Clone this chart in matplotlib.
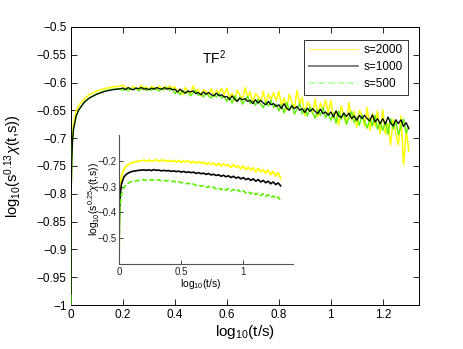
import matplotlib
matplotlib.use("Agg")
import matplotlib.pyplot as plt
from matplotlib.lines import Line2D

plt.rcParams['font.family'] = ['Liberation Sans', 'DejaVu Sans']
plt.rcParams['mathtext.fontset'] = 'custom'
plt.rcParams['mathtext.rm'] = 'Liberation Sans'
plt.rcParams['mathtext.it'] = 'Liberation Sans:italic'

# ---------------- main panel data ----------------
x_main = [0, 0.001, 0.003, 0.006, 0.01, 0.02, 0.03, 0.05, 0.07, 0.1, 0.13, 0.16, 0.18,
          0.20, 0.21, 0.22, 0.23, 0.24, 0.25, 0.26, 0.27, 0.28, 0.29,
          0.30, 0.31, 0.32, 0.33, 0.34, 0.35, 0.36, 0.37, 0.38, 0.39,
          0.40, 0.41, 0.42, 0.43, 0.44, 0.45, 0.46, 0.47, 0.48, 0.49,
          0.50, 0.51, 0.52, 0.53, 0.54, 0.55, 0.56, 0.57, 0.58, 0.59,
          0.60, 0.61, 0.62, 0.63, 0.64, 0.65, 0.66, 0.67, 0.68, 0.69,
          0.70, 0.71, 0.72, 0.73, 0.74, 0.75, 0.76, 0.77, 0.78, 0.79,
          0.80, 0.81, 0.82, 0.83, 0.84, 0.85, 0.86, 0.87, 0.88, 0.89,
          0.90, 0.91, 0.92, 0.93, 0.94, 0.95, 0.96, 0.97, 0.98, 0.99,
          1.00, 1.01, 1.02, 1.03, 1.04, 1.05, 1.06, 1.07, 1.08, 1.09,
          1.10, 1.11, 1.12, 1.13, 1.14, 1.15, 1.16, 1.17, 1.18, 1.19,
          1.20, 1.21, 1.22, 1.23, 1.24, 1.25, 1.26, 1.27, 1.28, 1.29, 1.30]

s2000 = [-0.98, -0.78, -0.725, -0.69, -0.672, -0.651, -0.641, -0.630, -0.622, -0.615, -0.611, -0.608, -0.607,
         -0.605, -0.611, -0.608, -0.613, -0.607, -0.610, -0.612, -0.605, -0.611, -0.608,
         -0.613, -0.607, -0.609, -0.612, -0.606, -0.613, -0.607, -0.610, -0.606, -0.611,
         -0.607, -0.618, -0.612, -0.622, -0.609, -0.616, -0.620, -0.606, -0.617, -0.612,
         -0.624, -0.613, -0.616, -0.623, -0.611, -0.625, -0.614, -0.619, -0.611, -0.622,
         -0.610, -0.627, -0.619, -0.633, -0.614, -0.623, -0.631, -0.609, -0.626, -0.617,
         -0.637, -0.620, -0.625, -0.634, -0.616, -0.638, -0.621, -0.630, -0.618, -0.633,
         -0.616, -0.641, -0.628, -0.650, -0.621, -0.636, -0.646, -0.614, -0.639, -0.627,
         -0.660, -0.635, -0.642, -0.657, -0.630, -0.662, -0.637, -0.649, -0.631, -0.655,
         -0.632, -0.664, -0.650, -0.677, -0.642, -0.660, -0.675, -0.636, -0.668, -0.652,
         -0.680, -0.650, -0.660, -0.678, -0.645, -0.686, -0.656, -0.679, -0.651, -0.692,
         -0.649, -0.693, -0.674, -0.712, -0.666, -0.692, -0.712, -0.660, -0.748, -0.685, -0.723]

s1000 = [-0.98, -0.80, -0.74, -0.705, -0.683, -0.660, -0.649, -0.636, -0.628, -0.621, -0.616, -0.613, -0.612,
         -0.610, -0.613, -0.609, -0.612, -0.613, -0.610, -0.611, -0.609, -0.612, -0.611,
         -0.613, -0.610, -0.612, -0.609, -0.611, -0.612, -0.609, -0.612, -0.610, -0.613,
         -0.612, -0.617, -0.612, -0.616, -0.619, -0.615, -0.617, -0.615, -0.620, -0.618,
         -0.622, -0.617, -0.621, -0.618, -0.622, -0.624, -0.619, -0.624, -0.622, -0.626,
         -0.625, -0.631, -0.624, -0.630, -0.634, -0.628, -0.631, -0.629, -0.634, -0.632,
         -0.638, -0.631, -0.637, -0.632, -0.637, -0.640, -0.634, -0.640, -0.638, -0.643,
         -0.640, -0.647, -0.638, -0.646, -0.650, -0.642, -0.647, -0.643, -0.650, -0.647,
         -0.654, -0.646, -0.652, -0.647, -0.652, -0.656, -0.648, -0.656, -0.653, -0.659,
         -0.653, -0.662, -0.651, -0.660, -0.663, -0.655, -0.661, -0.655, -0.665, -0.660,
         -0.668, -0.659, -0.665, -0.659, -0.665, -0.669, -0.658, -0.671, -0.665, -0.674,
         -0.665, -0.675, -0.662, -0.673, -0.678, -0.667, -0.674, -0.667, -0.679, -0.672, -0.683]

s500 = [-1.0, -0.80, -0.74, -0.705, -0.684, -0.661, -0.650, -0.636, -0.628, -0.620, -0.615, -0.612, -0.611,
        -0.614, -0.611, -0.615, -0.610, -0.613, -0.610, -0.615, -0.612, -0.609, -0.614,
        -0.611, -0.614, -0.610, -0.613, -0.615, -0.611, -0.613, -0.609, -0.614, -0.611,
        -0.620, -0.615, -0.622, -0.614, -0.620, -0.616, -0.624, -0.619, -0.615, -0.623,
        -0.620, -0.626, -0.619, -0.624, -0.628, -0.621, -0.626, -0.620, -0.628, -0.625,
        -0.634, -0.626, -0.637, -0.624, -0.633, -0.626, -0.639, -0.632, -0.625, -0.638,
        -0.633, -0.641, -0.630, -0.639, -0.645, -0.634, -0.642, -0.632, -0.645, -0.639,
        -0.651, -0.640, -0.655, -0.636, -0.649, -0.640, -0.657, -0.647, -0.638, -0.656,
        -0.647, -0.660, -0.644, -0.655, -0.664, -0.649, -0.659, -0.645, -0.663, -0.655,
        -0.668, -0.655, -0.673, -0.651, -0.666, -0.654, -0.675, -0.663, -0.652, -0.672,
        -0.662, -0.677, -0.658, -0.671, -0.682, -0.664, -0.678, -0.659, -0.684, -0.671,
        -0.686, -0.670, -0.693, -0.665, -0.683, -0.669, -0.694, -0.679, -0.666, -0.691, -0.679]

# ---------------- inset data ----------------
x_in = [0, 0.003, 0.006, 0.01, 0.02, 0.04, 0.06, 0.08, 0.1, 0.13, 0.16,
        0.20, 0.22, 0.24, 0.26, 0.28, 0.30, 0.32, 0.34, 0.36, 0.38,
        0.40, 0.42, 0.44, 0.46, 0.48, 0.50, 0.52, 0.54, 0.56, 0.58,
        0.60, 0.62, 0.64, 0.66, 0.68, 0.70, 0.72, 0.74, 0.76, 0.78,
        0.80, 0.82, 0.84, 0.86, 0.88, 0.90, 0.92, 0.94, 0.96, 0.98,
        1.00, 1.02, 1.04, 1.06, 1.08, 1.10, 1.12, 1.14, 1.16, 1.18,
        1.20, 1.22, 1.24, 1.26, 1.28, 1.30]

in2000 = [-0.60, -0.40, -0.34, -0.30, -0.26, -0.232, -0.220, -0.213, -0.208, -0.204, -0.201,
          -0.198, -0.202, -0.197, -0.201, -0.199, -0.196, -0.202, -0.198, -0.197, -0.203,
          -0.198, -0.203, -0.199, -0.205, -0.198, -0.206, -0.201, -0.204, -0.200, -0.209,
          -0.202, -0.209, -0.204, -0.210, -0.205, -0.214, -0.207, -0.213, -0.209, -0.218,
          -0.210, -0.221, -0.212, -0.219, -0.215, -0.226, -0.215, -0.225, -0.220, -0.231,
          -0.220, -0.234, -0.224, -0.236, -0.227, -0.243, -0.229, -0.243, -0.234, -0.248,
          -0.236, -0.254, -0.241, -0.259, -0.246, -0.268]

in1000 = [-0.60, -0.42, -0.37, -0.33, -0.29, -0.262, -0.252, -0.246, -0.242, -0.239, -0.237,
          -0.235, -0.237, -0.235, -0.238, -0.234, -0.237, -0.236, -0.239, -0.237, -0.239,
          -0.238, -0.241, -0.239, -0.242, -0.240, -0.244, -0.241, -0.245, -0.243, -0.246,
          -0.244, -0.249, -0.246, -0.250, -0.248, -0.253, -0.249, -0.255, -0.252, -0.257,
          -0.254, -0.260, -0.256, -0.262, -0.258, -0.265, -0.260, -0.267, -0.263, -0.270,
          -0.265, -0.273, -0.268, -0.276, -0.270, -0.279, -0.273, -0.282, -0.276, -0.285,
          -0.279, -0.289, -0.282, -0.292, -0.286, -0.297]

in500 = [-0.60, -0.46, -0.41, -0.37, -0.33, -0.302, -0.291, -0.285, -0.281, -0.278, -0.276,
         -0.274, -0.276, -0.273, -0.275, -0.273, -0.276, -0.274, -0.277, -0.275, -0.278,
         -0.277, -0.280, -0.279, -0.283, -0.281, -0.285, -0.284, -0.289, -0.287, -0.292,
         -0.290, -0.296, -0.293, -0.299, -0.296, -0.303, -0.299, -0.306, -0.302, -0.309,
         -0.304, -0.312, -0.306, -0.314, -0.308, -0.317, -0.311, -0.319, -0.313, -0.322,
         -0.316, -0.325, -0.319, -0.328, -0.321, -0.331, -0.325, -0.335, -0.328, -0.338,
         -0.332, -0.342, -0.336, -0.347, -0.340, -0.354]

labels = ["s=2000", "s=1000", "s=500"]
xticks_main = [0, 0.2, 0.4, 0.6, 0.8, 1.0, 1.2]
xticks_main_txt = ["0", "0.2", "0.4", "0.6", "0.8", "1", "1.2"]
yticks_main = [-1, -0.95, -0.9, -0.85, -0.8, -0.75, -0.7, -0.65, -0.6, -0.55, -0.5]
yticks_main_txt = ["\u22121", "\u22120.95", "\u22120.9", "\u22120.85", "\u22120.8", "\u22120.75",
                   "\u22120.7", "\u22120.65", "\u22120.6", "\u22120.55", "\u22120.5"]
xticks_in = [0, 0.5, 1]
xticks_in_txt = ["0", "0.5", "1"]
yticks_in = [-0.5, -0.4, -0.3, -0.2]
yticks_in_txt = ["\u22120.5", "\u22120.4", "\u22120.3", "\u22120.2"]

yel = "#ffff00"
grn = "#5cf000"

fig = plt.figure(figsize=(4.63, 3.49), dpi=100)
ax = fig.add_axes([0.1533, 0.126, 0.752, 0.797])

ax.plot(x_main, s2000, color=yel, lw=1.1, zorder=2)
ax.plot(x_main, s500, color=grn, lw=1.0, zorder=3)
ax.plot(x_main, s1000, color="black", lw=0.9, zorder=4)

ax.set_xlim(0, 1.34)
ax.set_ylim(-1, -0.5)
ax.set_xticks(xticks_main)
ax.set_xticklabels(xticks_main_txt)
ax.set_yticks(yticks_main)
ax.set_yticklabels(yticks_main_txt)
ax.tick_params(direction="in", length=4, width=0.6, labelsize=8.5, top=True, right=True, pad=3)
for sp in ax.spines.values():
    sp.set_linewidth(0.7)
ax.set_xlabel("log$_{10}$(t/s)", fontsize=11, labelpad=1)
ax.set_ylabel("log$_{10}$(s$^{0.13}$$\\chi$(t,s))", fontsize=10.5)
ax.yaxis.set_label_coords(-0.135, 0.5)
ax.text(0.55, -0.555, "TF$^2$", fontsize=10, ha="center", va="center")

handles = [Line2D([], [], color="#ffff66", lw=0.8),
           Line2D([], [], color="#777777", lw=1.3),
           Line2D([], [], color="#b5ffa5", lw=1.3, ls="--")]
leg = ax.legend(handles, labels, loc="upper right", bbox_to_anchor=(0.985, 0.975),
                fontsize=8.5, frameon=True, fancybox=False, handlelength=4.2,
                borderpad=0.4, labelspacing=0.4, handletextpad=0.5)
leg.get_frame().set_edgecolor("black")
leg.get_frame().set_linewidth(0.7)

# inset
axi = fig.add_axes([0.257, 0.2436, 0.376, 0.3696])
axi.plot(x_in, in2000, color=yel, lw=1.3)
axi.plot(x_in, in1000, color="black", lw=1.2)
axi.plot(x_in, in500, color=grn, lw=1.2, ls=(0, (3, 1.5)))
axi.set_xlim(0, 1.4)
axi.set_ylim(-0.6, -0.1)
axi.set_xticks(xticks_in)
axi.set_xticklabels(xticks_in_txt)
axi.set_yticks(yticks_in)
axi.set_yticklabels(yticks_in_txt)
axi.spines["top"].set_visible(False)
axi.spines["right"].set_visible(False)
for s in ["left", "bottom"]:
    axi.spines[s].set_color("#555555")
    axi.spines[s].set_linewidth(0.8)
axi.tick_params(direction="in", length=3, width=0.6, labelsize=7, pad=2, colors="#222222")
axi.set_xlabel("log$_{10}$(t/s)", fontsize=7.5)
axi.xaxis.set_label_coords(0.47, -0.1)
axi.set_ylabel("log$_{10}$(s$^{0.25}$$\\chi$(t,s))", fontsize=7.5)
axi.yaxis.set_label_coords(-0.1, 0.5)
axi.patch.set_alpha(0)

fig.savefig("out.png", dpi=100)
